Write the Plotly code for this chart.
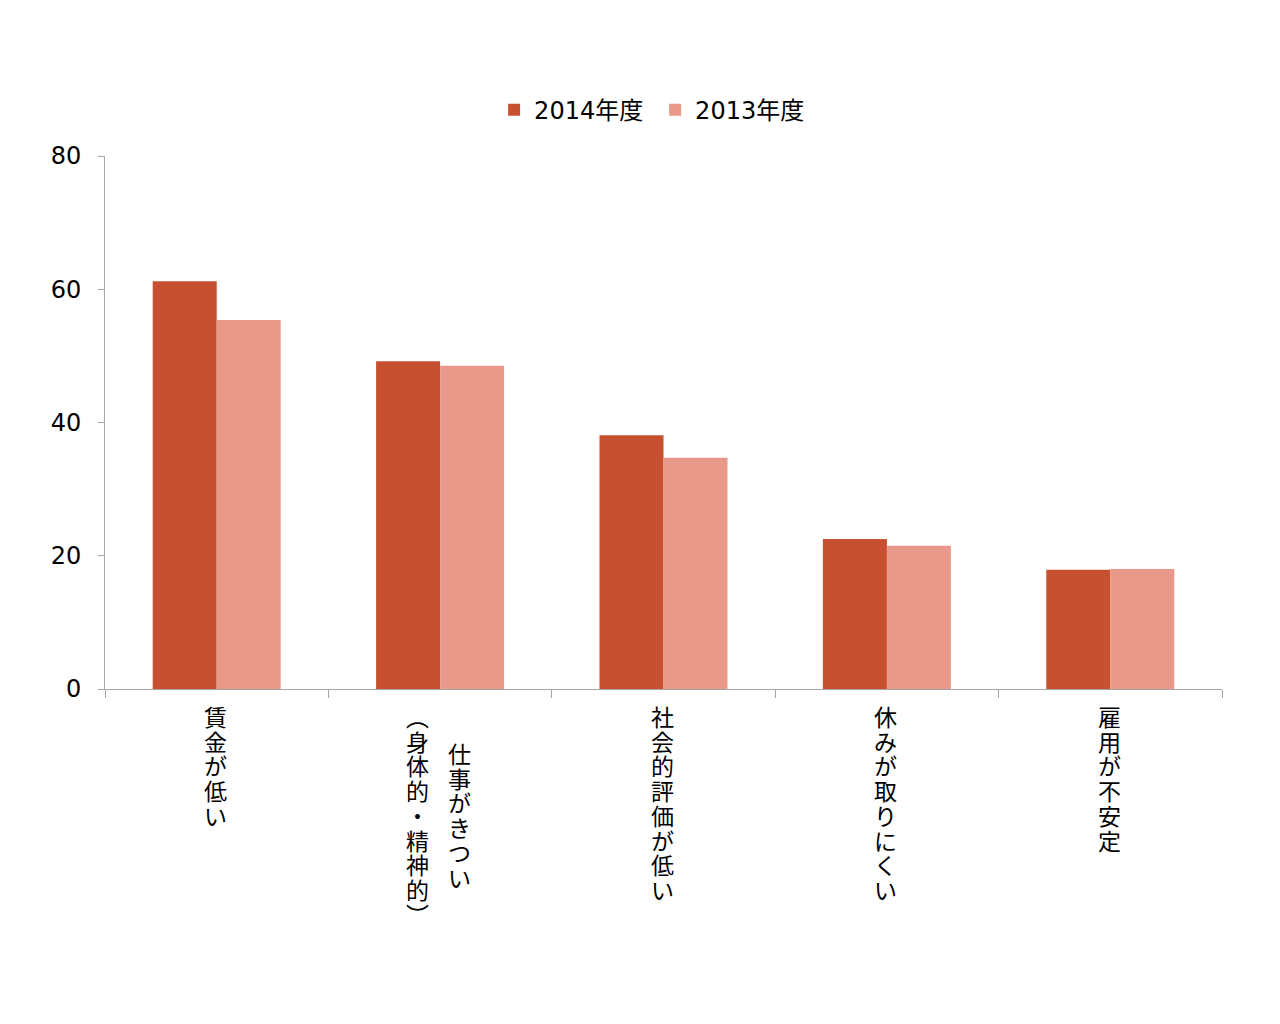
import plotly.graph_objects as go

categories = ["賃金が低い", "仕事がきつい（身体的・精神的）", "社会的評価が低い", "休みが取りにくい", "雇用が不安定"]
# vertical label columns for each category (right column first)
label_columns = [
    ["賃金が低い"],
    ["仕事がきつい", "︵身体的・精神的︶"],
    ["社会的評価が低い"],
    ["休みが取りにくい"],
    ["雇用が不安定"],
]
series_names = ["2014年度", "2013年度"]
values_2014 = [61.2, 49.2, 38.1, 22.5, 17.9]
values_2013 = [55.4, 48.5, 34.7, 21.5, 18.0]
y_ticks = [0, 20, 40, 60, 80]

colors = ["#C65030", "#E8998A"]
FONT = "DejaVu Sans, Noto Sans CJK JP, sans-serif"

fig = go.Figure()
for name, vals, col in zip(series_names, [values_2014, values_2013], colors):
    fig.add_trace(go.Bar(x=categories, y=vals, name=name, marker=dict(color=col, line=dict(width=0))))

PITCH_FONT = 19   # controls line pitch (1.3 * size)
GLYPH = 23        # glyph size
annotations = []
for cat, cols in zip(categories, label_columns):
    n = len(cols)
    maxlen = max(len(c) for c in cols)
    for i, col in enumerate(cols):
        if n == 1:
            xs = -1
        else:
            xs = 19 if i == 0 else -23
        ys = -(maxlen - len(col)) / 2 * PITCH_FONT * 1.3
        txt = "<br>".join(f"<span style='font-size:{GLYPH}px'>{ch}</span>" for ch in col)
        annotations.append(dict(
            x=cat, xref="x", y=0, yref="paper", yanchor="top", xanchor="center",
            xshift=xs, yshift=-14 + ys, showarrow=False, text=txt,
            font=dict(family=FONT, size=PITCH_FONT, color="#000000"),
        ))

fig.update_layout(
    width=1280, height=1024,
    margin=dict(l=105, r=58, t=156, b=335, autoexpand=False),
    paper_bgcolor="white", plot_bgcolor="white",
    barmode="group", bargap=0.427, bargroupgap=0,
    font=dict(family=FONT, size=22, color="#000000"),
    legend=dict(orientation="h", x=0.4925, xanchor="center", y=1.086, yanchor="middle",
                font=dict(size=24), itemwidth=30, entrywidth=116, traceorder="normal"),
    annotations=annotations,
    xaxis=dict(showticklabels=False, showline=True, linecolor="#A6A6A6", linewidth=1,
               ticks="outside", tickson="boundaries", ticklen=8, tickcolor="#A6A6A6",
               showgrid=False, zeroline=False),
    yaxis=dict(range=[0, 80], tickvals=y_ticks, ticks="outside", ticklen=6, tickcolor="#A6A6A6",
               showline=True, linecolor="#A6A6A6", linewidth=1, showgrid=False, zeroline=False,
               ticklabelstandoff=12, tickfont=dict(size=24)),
)

fig.write_html("out.html", config={"displayModeBar": False},
               post_script="document.body.style.margin='0';")
